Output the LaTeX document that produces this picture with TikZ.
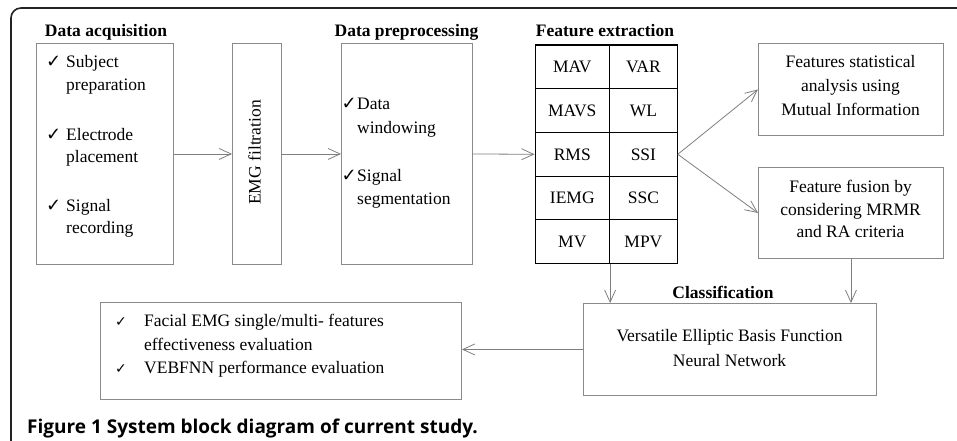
\documentclass[tikz,border=0pt]{standalone}
\usepackage{fontspec}
\setmainfont{Liberation Serif}
\newfontfamily\symf{DejaVu Sans}
\newfontfamily\capf{Open Sans}
\usetikzlibrary{arrows.meta}
\definecolor{boxgray}{HTML}{8A8A8A}
\definecolor{arrgray}{HTML}{7F7F7F}
\definecolor{framec}{HTML}{222222}
\newcommand{\chk}{{\symf\fontsize{18}{18}\selectfont ✓}}
\newcommand{\chks}{{\symf\fontsize{14}{14}\selectfont ✓}}
\begin{document}
\begin{tikzpicture}[x=1pt,y=-1pt,
  every node/.style={font=\rmfamily\fontsize{17.5}{23}\selectfont},
  box/.style={draw=boxgray, line width=0.9pt, inner sep=0pt, anchor=north west},
  cell/.style={draw=black, line width=1.1pt, inner sep=0pt, anchor=north west, minimum height=43.7pt},
  lcell/.style={cell, minimum width=74.5pt},
  rcell/.style={cell, minimum width=67.7pt},
  txt/.style={anchor=base west, inner sep=0pt},
  ctxt/.style={anchor=base, inner sep=0pt},
  lbl/.style={anchor=base, inner sep=0pt, font=\rmfamily\fontsize{17.5}{23}\selectfont\bfseries},
  arr/.style={draw=arrgray, line width=0.8pt, -{Straight Barb[length=12pt,width=11pt]}},
  framel/.style={draw=framec, line width=1.6pt, rounded corners=10pt}
]
\path[use as bounding box] (0,0) rectangle (957,441);
\coordinate (fa) at (11,441);
\coordinate (fb) at (11,8);
\coordinate (fc) at (957,8);
\draw[framel] (fa) -- (fb) -- (fc);

% labels
\node[lbl] (lacq) at (106,37) {Data acquisition};
\node[lbl] (lpre) at (406.5,37) {Data preprocessing};
\node[lbl] (lfea) at (605,37) {Feature extraction};
\node[lbl] (lcls) at (723,298) {Classification};

% boxes
\node[box, minimum width=137pt, minimum height=221pt] (acq) at (36,43) {};
\node[box, minimum width=49pt, minimum height=221pt] (emg) at (232,43) {};
\node[box, minimum width=131pt, minimum height=221pt] (pre) at (341,43) {};
\node[box, minimum width=185pt, minimum height=92pt] (stat) at (758,43) {};
\node[box, minimum width=185pt, minimum height=91pt] (fus) at (758,167) {};
\node[box, minimum width=293pt, minimum height=92pt] (cls) at (583,303) {};
\node[box, minimum width=361pt, minimum height=97pt] (out) at (100,302) {};

% acquisition texts
\node[txt] (k1) at (46,68) {\chk};
\node[txt] (a1) at (66,68) {Subject};
\node[txt] (a2) at (66,91) {preparation};
\node[txt] (k2) at (46,140) {\chk};
\node[txt] (a3) at (66,140) {Electrode};
\node[txt] (a4) at (66,162) {placement};
\node[txt] (k3) at (46,211) {\chk};
\node[txt] (a5) at (66,211) {Signal};
\node[txt] (a6) at (66,233) {recording};

% EMG filtration
\node[rotate=90, inner sep=0pt] (emgt) at (254.5,152.5) {EMG filtration};

% preprocessing texts
\node[txt] (k4) at (341.5,110) {\chk};
\node[txt] (p1) at (357,110) {Data};
\node[txt] (p2) at (357,133) {windowing};
\node[txt] (k5) at (341.5,181) {\chk};
\node[txt] (p3) at (357,181) {Signal};
\node[txt] (p4) at (357,204) {segmentation};

% feature table
\node[lcell] (c11) at (534.5,44.5) {MAV};
\node[rcell] (c12) at (609,44.5) {VAR};
\node[lcell] (c21) at (534.5,88.2) {MAVS};
\node[rcell] (c22) at (609,88.2) {WL};
\node[lcell] (c31) at (534.5,131.9) {RMS};
\node[rcell] (c32) at (609,131.9) {SSI};
\node[lcell] (c41) at (534.5,175.6) {IEMG};
\node[rcell] (c42) at (609,175.6) {SSC};
\node[lcell] (c51) at (534.5,219.3) {MV};
\node[rcell] (c52) at (609,219.3) {MPV};

% statistical analysis
\node[ctxt] (s1) at (850.5,68) {Features statistical};
\node[ctxt] (s2) at (850.5,91.5) {analysis using};
\node[ctxt] (s3) at (850.5,115) {Mutual Information};

% fusion
\node[ctxt] (f1) at (850.5,192.5) {Feature fusion by};
\node[ctxt] (f2) at (850.5,215) {considering MRMR};
\node[ctxt] (f3) at (850.5,237.5) {and RA criteria};

% classification
\node[ctxt] (v1) at (729.5,341.5) {Versatile Elliptic Basis Function};
\node[ctxt] (v2) at (729.5,366) {Neural Network};

% output
\node[txt] (k6) at (115,326) {\chks};
\node[txt] (o1) at (144,326) {Facial EMG single/multi- features};
\node[txt] (o2) at (144,350) {effectiveness evaluation};
\node[txt] (k7) at (115,373) {\chks};
\node[txt] (o3) at (144,373) {VEBFNN performance evaluation};

% caption
\node[anchor=base west, inner sep=0pt, font=\capf\bfseries\fontsize{19}{22}\selectfont] (cap) at (27,433) {Figure 1 System block diagram of current study.};

% connectors
\draw[arr] (acq.east) -- (emg.west);
\draw[arr] (emg.east) -- (pre.west);
\draw[arr] (pre.east) -- (c31.west);
\draw[arr] (c32.east) -- (stat.west);
\draw[arr] (c32.east) -- (fus.west);
\draw[arr] (fus.south) -- (fus.south |- cls.north);
\draw[arr] (c51.south east) -- (c51.south east |- cls.north);
\draw[arr] (cls.west) -- (cls.west -| out.east);
\end{tikzpicture}
\end{document}
